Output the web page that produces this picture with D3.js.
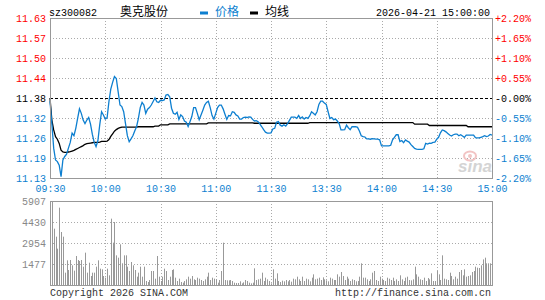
<!DOCTYPE html>
<html>
<head>
<meta charset="utf-8">
<script src="https://cdn.jsdelivr.net/npm/d3@7"></script>
<style>
  body { margin: 0; background: #fff; }
  svg text { font-family: "Liberation Mono", "DejaVu Sans Mono", monospace; font-size: 10px; }
</style>
</head>
<body>
<svg width="545" height="300"></svg>
<script>
const stockCode = "sz300082";
const stockName = "奥克股份";
const stamp = "2026-04-21 15:00:00";
const legendNames = ["价格", "均线"];
const prevClose = 11.38;
const priceLabels = ["11.63", "11.57", "11.50", "11.44", "11.38", "11.32", "11.26", "11.19", "11.13"];
const pctLabels = ["+2.20%", "+1.65%", "+1.10%", "+0.55%", "-0.00%", "-0.55%", "-1.10%", "-1.65%", "-2.20%"];
const timeTicks = [0, 30, 60, 90, 120, 150, 180, 210, 240];
const timeLabels = ["09:30", "10:00", "10:30", "11:00", "11:30", "13:30", "14:00", "14:30", "15:00"];
const volMax = 5907;
const volLabels = ["5907", "4430", "2954", "1477"];
const footLeft = "Copyright 2026 SINA.COM";
const footRight = "http://finance.sina.com.cn";

// one value per minute, 09:30-11:30 then 13:01-15:00
const price = [
  11.37, 11.30, 11.223, 11.186, 11.181, 11.17, 11.134, 11.186, 11.197, 11.204,
  11.223, 11.241, 11.27, 11.262, 11.285, 11.316, 11.346, 11.332, 11.311, 11.30,
  11.311, 11.319, 11.298, 11.266, 11.241, 11.228, 11.246, 11.296, 11.337, 11.327,
  11.314, 11.318, 11.369, 11.408, 11.429, 11.447, 11.441, 11.40, 11.358, 11.353,
  11.337, 11.30, 11.262, 11.243, 11.252, 11.262, 11.277, 11.29, 11.316, 11.35,
  11.366, 11.358, 11.332, 11.345, 11.35, 11.358, 11.369, 11.38, 11.368, 11.366,
  11.373, 11.372, 11.374, 11.389, 11.391, 11.384, 11.348, 11.332, 11.329, 11.335,
  11.313, 11.327, 11.322, 11.308, 11.304, 11.291, 11.306, 11.322, 11.35, 11.35,
  11.332, 11.312, 11.327, 11.342, 11.358, 11.366, 11.37, 11.35, 11.325, 11.314,
  11.332, 11.35, 11.358, 11.358, 11.346, 11.329, 11.313, 11.325, 11.324, 11.337,
  11.335, 11.327, 11.324, 11.314, 11.314, 11.319, 11.32, 11.319, 11.321, 11.32,
  11.313, 11.308, 11.309, 11.306, 11.298, 11.29, 11.281, 11.273, 11.27, 11.27,
  11.271, 11.283, 11.285, 11.304, 11.306, 11.295, 11.292, 11.296, 11.292, 11.30,
  11.31, 11.32, 11.32, 11.32, 11.316, 11.325, 11.316, 11.321, 11.314, 11.319,
  11.316, 11.324, 11.337, 11.332, 11.327, 11.337, 11.36, 11.37, 11.37, 11.364,
  11.36, 11.337, 11.316, 11.319, 11.312, 11.314, 11.308, 11.30, 11.28, 11.28,
  11.281, 11.295, 11.287, 11.281, 11.29, 11.29, 11.29, 11.288, 11.277, 11.262,
  11.259, 11.258, 11.252, 11.252, 11.251, 11.253, 11.252, 11.251, 11.251, 11.249,
  11.23, 11.23, 11.23, 11.23, 11.23, 11.232, 11.249, 11.257, 11.265, 11.265,
  11.244, 11.247, 11.24, 11.249, 11.245, 11.242, 11.234, 11.228, 11.222, 11.22,
  11.219, 11.219, 11.219, 11.221, 11.238, 11.236, 11.239, 11.238, 11.241, 11.242,
  11.251, 11.257, 11.271, 11.28, 11.278, 11.274, 11.269, 11.264, 11.261, 11.265,
  11.267, 11.267, 11.262, 11.265, 11.261, 11.257, 11.264, 11.264, 11.264, 11.264,
  11.264, 11.256, 11.255, 11.255, 11.257, 11.259, 11.262, 11.259, 11.261, 11.266,
  11.264
];

const avgPrice = [
  11.38, 11.311, 11.28, 11.259, 11.251, 11.238, 11.217, 11.211, 11.21, 11.21,
  11.211, 11.212, 11.214, 11.216, 11.219, 11.222, 11.225, 11.228, 11.231, 11.235,
  11.237, 11.238, 11.239, 11.24, 11.241, 11.241, 11.241, 11.242, 11.244, 11.244,
  11.244, 11.245, 11.25, 11.26, 11.268, 11.276, 11.281, 11.285, 11.287, 11.289,
  11.289, 11.289, 11.289, 11.289, 11.289, 11.289, 11.289, 11.289, 11.29, 11.29,
  11.29, 11.29, 11.29, 11.29, 11.29, 11.29, 11.29, 11.292, 11.292, 11.292,
  11.296, 11.296, 11.296, 11.296, 11.296, 11.299, 11.299, 11.299, 11.299, 11.299,
  11.299, 11.299, 11.299, 11.299, 11.299, 11.299, 11.299, 11.299, 11.299, 11.299,
  11.299, 11.299, 11.299, 11.299, 11.299, 11.299, 11.302, 11.302, 11.302, 11.302,
  11.302, 11.302, 11.302, 11.302, 11.302, 11.302, 11.302, 11.302, 11.302, 11.302,
  11.302, 11.302, 11.302, 11.302, 11.302, 11.302, 11.302, 11.302, 11.302, 11.302,
  11.302, 11.301, 11.301, 11.301, 11.301, 11.301, 11.301, 11.301, 11.301, 11.301,
  11.301, 11.301, 11.301, 11.301, 11.301, 11.301, 11.301, 11.301, 11.301, 11.301,
  11.301, 11.301, 11.301, 11.301, 11.301, 11.301, 11.301, 11.301, 11.301, 11.301,
  11.301, 11.303, 11.303, 11.303, 11.303, 11.303, 11.303, 11.303, 11.303, 11.303,
  11.303, 11.303, 11.303, 11.303, 11.303, 11.303, 11.303, 11.303, 11.303, 11.303,
  11.303, 11.303, 11.303, 11.303, 11.303, 11.303, 11.303, 11.303, 11.303, 11.303,
  11.303, 11.303, 11.303, 11.303, 11.303, 11.303, 11.303, 11.303, 11.303, 11.303,
  11.303, 11.303, 11.303, 11.303, 11.303, 11.303, 11.303, 11.303, 11.303, 11.303,
  11.303, 11.303, 11.303, 11.303, 11.303, 11.303, 11.303, 11.303, 11.298, 11.298,
  11.298, 11.298, 11.298, 11.298, 11.298, 11.298, 11.294, 11.294, 11.294, 11.294,
  11.294, 11.294, 11.294, 11.294, 11.294, 11.294, 11.294, 11.294, 11.294, 11.294,
  11.294, 11.294, 11.294, 11.294, 11.294, 11.294, 11.294, 11.29, 11.29, 11.29,
  11.29, 11.29, 11.29, 11.29, 11.29, 11.29, 11.29, 11.29, 11.29, 11.29,
  11.29
];

const volume = [
  586, 5907, 3961, 3399, 2555, 5438, 3727, 3399, 867, 1735,
  1055, 1758, 1383, 1008, 2039, 1758, 1688, 1758, 1289, 2274,
  867, 1570, 633, 867, 867, 1289, 1735, 1149, 1102, 633,
  516, 1149, 680, 4665, 2977, 4430, 2086, 1922, 2860, 1524,
  2086, 2086, 1289, 984, 1617, 1383, 1055, 586, 867, 1289,
  586, 1289, 281, 211, 352, 984, 984, 445, 2039, 586,
  281, 586, 1149, 984, 352, 586, 1055, 1102, 516, 281,
  445, 211, 164, 281, 398, 586, 445, 633, 398, 352,
  516, 445, 352, 281, 398, 586, 867, 352, 516, 445,
  398, 164, 352, 984, 2977, 352, 328, 328, 352, 281,
  164, 141, 141, 258, 117, 188, 352, 281, 164, 117,
  164, 1172, 352, 398, 445, 867, 281, 516, 398, 281,
  117, 1102, 445, 820, 281, 211, 305, 258, 352, 258,
  352, 234, 445, 398, 586, 398, 281, 586, 281, 445,
  398, 258, 516, 750, 398, 445, 516, 352, 539, 398,
  328, 258, 516, 445, 352, 352, 750, 586, 914, 633,
  352, 586, 445, 281, 398, 352, 258, 281, 586, 1524,
  516, 516, 398, 281, 398, 867, 984, 352, 281, 586,
  445, 352, 281, 516, 445, 352, 516, 281, 398, 281,
  680, 398, 281, 516, 586, 352, 328, 398, 1289, 750,
  586, 398, 352, 516, 281, 492, 398, 820, 281, 281,
  984, 750, 352, 2086, 445, 398, 352, 867, 633, 398,
  586, 445, 914, 1055, 680, 1102, 586, 633, 680, 914,
  984, 1289, 1219, 1196, 1383, 1800, 1922, 1524, 1524, 1524,
  400
];

const blue = "#0d7fd0";
const red = "#ff0000";
const gridGray = "#aaaaaa";
const frameGray = "#999999";

const svg = d3.select("svg");
const left = 50, right = 492;
const pTop = 18, pBottom = 178;
const vTop = 201, vBottom = 285;

const x = d3.scaleLinear().domain([0, 240]).range([left, right]);
const y = d3.scaleLinear()
    .domain([prevClose * 0.978, prevClose * 1.022])
    .range([pBottom, pTop]);
const yv = d3.scaleLinear().domain([0, volMax]).range([vBottom, vTop]);

const levels = priceLabels.map((d, i) => prevClose * (1.022 - i * 0.0055));
const volLevels = volLabels.map((d, i) => volMax * (4 - i) / 4);
const labelColor = i => i < 4 ? red : (i === 4 ? "#000" : blue);

// header
const head = svg.append("g").attr("fill", "#000");
head.append("text").attr("x", 49).attr("y", 16).text(stockCode);
head.append("text").attr("x", 120).attr("y", 16)
    .style("font-family", "'Noto Sans CJK SC'").style("font-size", "12px")
    .text(stockName);
head.append("rect").attr("x", 200).attr("y", 11.5).attr("width", 8).attr("height", 3).attr("fill", blue);
head.append("text").attr("x", 215).attr("y", 16).attr("fill", blue)
    .style("font-family", "'Noto Sans CJK SC'").style("font-size", "12px")
    .text(legendNames[0]);
head.append("rect").attr("x", 250).attr("y", 11.5).attr("width", 8).attr("height", 3).attr("fill", "#000");
head.append("text").attr("x", 265).attr("y", 16)
    .style("font-family", "'Noto Sans CJK SC'").style("font-size", "12px")
    .text(legendNames[1]);
head.append("text").attr("x", 490).attr("y", 16).attr("text-anchor", "end").text(stamp);

// grids
function hGrid(yPos, dashed) {
  svg.append("line")
      .attr("x1", left).attr("x2", right)
      .attr("y1", Math.round(yPos) + 0.5).attr("y2", Math.round(yPos) + 0.5)
      .attr("stroke", dashed ? "#000" : gridGray)
      .attr("stroke-dasharray", dashed ? "3,2" : "1,2");
}
function vGrid(m, y1, y2) {
  svg.append("line")
      .attr("x1", Math.round(x(m)) + 0.5).attr("x2", Math.round(x(m)) + 0.5)
      .attr("y1", y1).attr("y2", y2)
      .attr("stroke", gridGray).attr("stroke-dasharray", "1,2");
}
levels.slice(1, -1).forEach((v, i) => hGrid(y(v), i + 1 === 4));
volLevels.slice(1).forEach(v => hGrid(yv(v), false));
timeTicks.slice(1, -1).forEach(m => { vGrid(m, pTop, pBottom); vGrid(m, vTop, vBottom); });

// volume bars
svg.append("g").attr("fill", "#999")
  .selectAll("rect").data(volume).join("rect")
    .attr("x", (d, i) => Math.round(x(i)))
    .attr("y", d => yv(d))
    .attr("width", 1)
    .attr("height", d => yv(0) - yv(d));

// watermark
const wm = svg.append("g").attr("transform", "translate(458,150)");
wm.append("ellipse").attr("cx", 12).attr("cy", 6).attr("rx", 6).attr("ry", 4.5)
    .attr("fill", "none").attr("stroke", "#f2c4c4").attr("stroke-width", 2);
wm.append("circle").attr("cx", 12).attr("cy", 6).attr("r", 2).attr("fill", "#f2c4c4");
wm.append("text").attr("x", 0).attr("y", 22)
    .style("font-family", "'Liberation Sans', sans-serif").style("font-size", "17px")
    .style("font-style", "italic").style("font-weight", "bold")
    .attr("fill", "#d4d4d4").text("sina");

// lines
const line = d3.line().x((d, i) => x(i)).y(d => y(d));
svg.append("path").datum(avgPrice).attr("d", line)
    .attr("fill", "none").attr("stroke", "#000").attr("stroke-width", 1.3);
svg.append("path").datum(price).attr("d", line)
    .attr("fill", "none").attr("stroke", blue).attr("stroke-width", 1.3);

// frames
svg.append("rect").attr("x", left + 0.5).attr("y", pTop + 0.5)
    .attr("width", right - left).attr("height", pBottom - pTop)
    .attr("fill", "none").attr("stroke", frameGray);
svg.append("rect").attr("x", left + 0.5).attr("y", vTop + 0.5)
    .attr("width", right - left).attr("height", vBottom - vTop)
    .attr("fill", "none").attr("stroke", frameGray);

// axes
function tidy(g) {
  g.attr("font-family", null).attr("font-size", null);
  g.select(".domain").remove();
  g.selectAll("line").remove();
}
svg.append("g").attr("transform", `translate(${left},0)`)
    .call(d3.axisLeft(y).tickValues(levels).tickSize(0).tickPadding(4)
      .tickFormat((d, i) => priceLabels[i]))
    .call(tidy)
    .selectAll("text").attr("fill", (d, i) => labelColor(i));
svg.append("g").attr("transform", `translate(${right},0)`)
    .call(d3.axisRight(y).tickValues(levels).tickSize(0).tickPadding(3)
      .tickFormat((d, i) => pctLabels[i]))
    .call(tidy)
    .selectAll("text").attr("fill", (d, i) => labelColor(i));
svg.append("g").attr("transform", `translate(0,${pBottom})`)
    .call(d3.axisBottom(x).tickValues(timeTicks).tickSize(0).tickPadding(7)
      .tickFormat((d, i) => timeLabels[i]))
    .call(tidy)
    .selectAll("text").attr("fill", blue);
svg.append("g").attr("transform", `translate(${left},0)`)
    .call(d3.axisLeft(yv).tickValues(volLevels).tickSize(0).tickPadding(4)
      .tickFormat((d, i) => volLabels[i]))
    .call(tidy)
    .selectAll("text").attr("fill", "#888");

// footer
svg.append("text").attr("x", 50).attr("y", 296).attr("fill", "#333").text(footLeft);
svg.append("text").attr("x", 491).attr("y", 296).attr("text-anchor", "end").attr("fill", "#333").text(footRight);
</script>
</body>
</html>
